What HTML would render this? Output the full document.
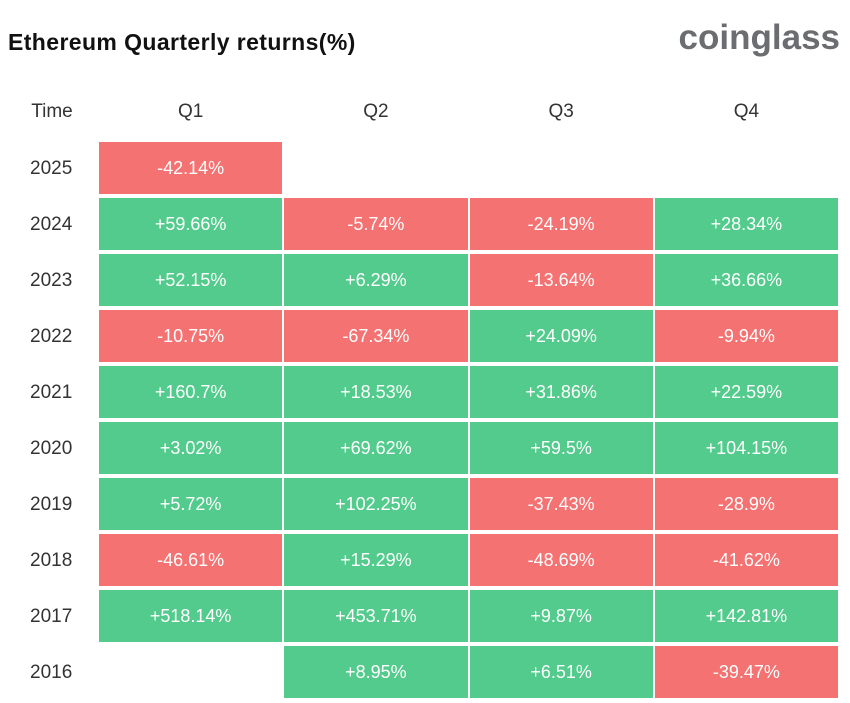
<!DOCTYPE html>
<html><head><meta charset="utf-8"><style>
body{margin:0;background:#fff;width:850px;height:703px;position:relative;overflow:hidden;font-family:"Liberation Sans Narrow","Liberation Sans",sans-serif}
#title{position:absolute;left:8px;top:29px;font-size:23px;font-weight:bold;color:#111;letter-spacing:0.4px}
#logo{position:absolute;right:10px;top:18px;font-size:35px;font-weight:bold;color:#6b6d70}
.hdr{position:absolute;top:101px;font-size:19px;color:#333;text-align:center}
.yr{position:absolute;left:30px;font-size:19px;color:#333}
.cell{position:absolute;color:#fff;font-size:18px;display:flex;align-items:center;justify-content:center}
</style></head><body>
<div id="title">Ethereum Quarterly returns(%)</div>
<div id="logo">coinglass</div>
<div class="hdr" style="left:20px;width:64px">Time</div>
<div id="grid"></div>
<script>
const quarters=["Q1","Q2","Q3","Q4"];
const years=["2025","2024","2023","2022","2021","2020","2019","2018","2017","2016"];
const q1=["-42.14%","+59.66%","+52.15%","-10.75%","+160.7%","+3.02%","+5.72%","-46.61%","+518.14%",null];
const q2=[null,"-5.74%","+6.29%","-67.34%","+18.53%","+69.62%","+102.25%","+15.29%","+453.71%","+8.95%"];
const q3=[null,"-24.19%","-13.64%","+24.09%","+31.86%","+59.5%","-37.43%","-48.69%","+9.87%","+6.51%"];
const q4=[null,"+28.34%","+36.66%","-9.94%","+22.59%","+104.15%","-28.9%","-41.62%","+142.81%","-39.47%"];
const series=[q1,q2,q3,q4];
const x0=99,cw=185.25,y0=142,rp=56,ch=52;
const g=document.getElementById('grid');
quarters.forEach((q,i)=>{const d=document.createElement('div');d.className='hdr';
d.style.left=(x0+i*cw)+'px';d.style.width=(cw-2)+'px';d.textContent=q;


g.appendChild(d);});
years.forEach((y,r)=>{const d=document.createElement('div');d.className='yr';
d.style.top=(y0+r*rp+16)+'px';d.textContent=y;


g.appendChild(d);
series.forEach((s,i)=>{const v=s[r];if(v==null)return;
const c=document.createElement('div');c.className='cell';
c.style.left=(x0+i*cw)+'px';c.style.top=(y0+r*rp)+'px';
c.style.width=(cw-2)+'px';c.style.height=ch+'px';
c.style.background=v[0]==='-'?'#f47272':'#52cb8c';
c.textContent=v;


g.appendChild(c);});});
</script>
</body></html>
